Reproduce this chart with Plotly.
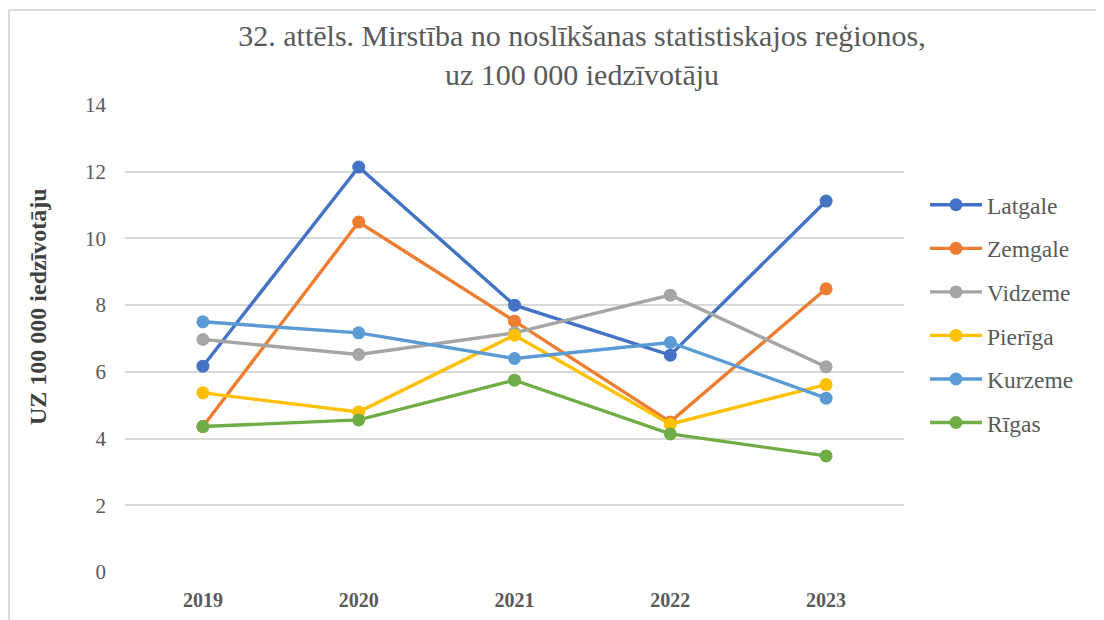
import plotly.graph_objects as go

years = ["2019", "2020", "2021", "2022", "2023"]
series_names = ["Latgale", "Zemgale", "Vidzeme", "Pierīga", "Kurzeme", "Rīgas"]
latgale = [6.17, 12.14, 8.0, 6.5, 11.12]
zemgale = [4.36, 10.49, 7.52, 4.5, 8.49]
vidzeme = [6.97, 6.52, 7.17, 8.3, 6.15]
pieriga = [5.37, 4.8, 7.1, 4.43, 5.62]
kurzeme = [7.5, 7.17, 6.4, 6.88, 5.21]
rigas = [4.36, 4.56, 5.75, 4.14, 3.48]
colors = ["#4472C4", "#ED7D31", "#A5A5A5", "#FFC000", "#5B9BD5", "#70AD47"]
values = [latgale, zemgale, vidzeme, pieriga, kurzeme, rigas]

# page has an 8px body margin: figure coords = page coords - 8
OFF = 8
W, H = 1096, 612
L, R, T, B = 117, 200, 97, 48
pw, ph = W - L - R, H - T - B


def px_x(page_px):
    return (page_px - OFF - L) / pw


def px_y(page_py):
    return (H - B - (page_py - OFF)) / ph


fig = go.Figure()
for name, vals, col in zip(series_names, values, colors):
    fig.add_trace(go.Scatter(
        x=years, y=vals, name=name, mode="lines+markers",
        line=dict(color=col, width=3.4),
        marker=dict(color=col, size=13),
        legendgroup=name,
    ))

serif = "Liberation Serif, Times New Roman, serif"
title_size = 30

fig.update_layout(
    width=W, height=H,
    margin=dict(l=L, r=R, t=T, b=B, autoexpand=False),
    paper_bgcolor="white", plot_bgcolor="white",
    font=dict(family=serif, color="#595959"),
    title=dict(
        text="32. attēls. Mirstība no noslīkšanas statistiskajos reģionos,<br>uz 100 000 iedzīvotāju",
        x=(582 - OFF) / W, xanchor="center",
        y=1 - (39 - OFF + 0.3 * title_size - 2) / H, yanchor="top",
        font=dict(size=title_size, family=serif, color="#595959"),
    ),
    xaxis=dict(
        type="category", range=[-0.5, 4.5], automargin=False,
        showgrid=False, showline=False, zeroline=False,
        ticks="", ticklabelstandoff=14,
        tickfont=dict(size=20, family=serif, color="#595959", weight="bold"),
    ),
    yaxis=dict(
        range=[0, 14], dtick=2, automargin=False,
        showgrid=True, gridcolor="#D9D9D9", gridwidth=1.5,
        zeroline=False, showline=False, ticks="",
        tickfont=dict(size=21, family=serif, color="#595959"),
        ticklabelstandoff=18,
    ),
    legend=dict(
        x=px_x(925), xanchor="left", y=px_y(183), yanchor="top",
        font=dict(size=23.5, family=serif, color="#595959"),
        tracegroupgap=10, traceorder="grouped", itemwidth=52,
        bgcolor="rgba(0,0,0,0)",
    ),
    showlegend=True,
)

fig.add_annotation(
    text="<b>UZ 100 000 iedzīvotāju</b>", textangle=-90,
    xref="paper", yref="paper", x=px_x(38), y=px_y(307),
    xanchor="center", yanchor="middle", showarrow=False,
    font=dict(size=24, family=serif, color="#404040"),
)

fig.add_shape(type="rect", xref="paper", yref="paper",
              x0=px_x(9), x1=px_x(1097), y0=px_y(640), y1=px_y(10),
              line=dict(color="#D0D0D0", width=1.5), layer="below")

fig.write_html("out.html")
